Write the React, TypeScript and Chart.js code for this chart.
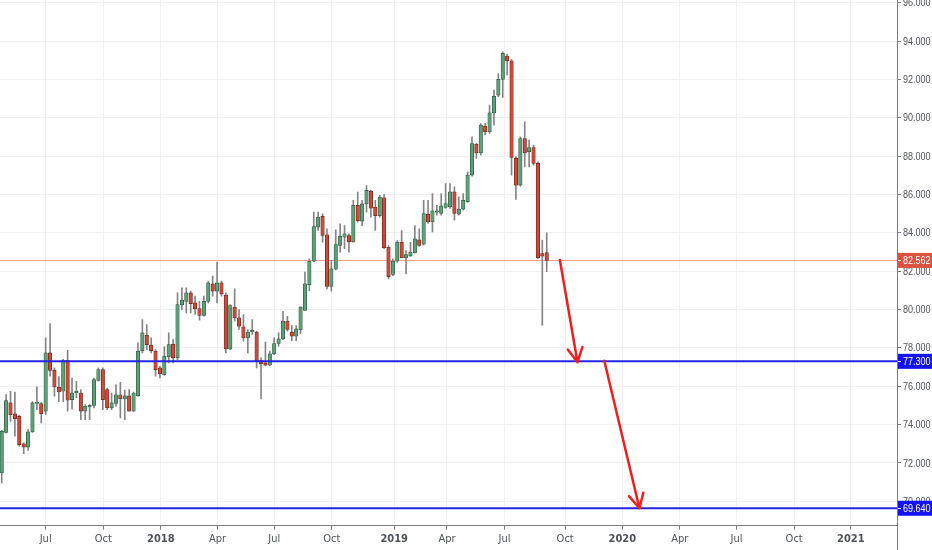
import { useEffect, useRef } from "react";
import { Chart, registerables } from "chart.js";

Chart.register(...registerables);

// weekly candles, index 0 = late April 2017
const opens = [
  71.48, 73.6, 75.13, 74.56, 74.43, 73.0, 72.83, 73.62, 75.1, 75.1,
  74.7, 77.74, 76.83, 75.96, 75.74, 77.34, 75.3, 75.67, 75.65, 74.7,
  74.92, 75.0, 76.3, 76.87, 75.83, 74.87, 75.1, 75.56, 75.34, 75.5,
  74.7, 75.5, 77.86, 78.66, 78.14, 77.83, 76.96, 76.6, 77.53, 78.2,
  77.48, 80.24, 80.43, 80.87, 80.35, 80.05, 79.69, 80.43, 81.34, 80.96,
  81.39, 80.75, 77.95, 80.12, 79.57, 79.1, 78.52, 78.85, 78.82, 77.34,
  77.22, 77.1, 77.69, 78.23, 78.47, 79.39, 78.82, 78.61, 78.94, 79.95,
  81.3, 82.52, 84.3, 84.87, 83.9, 81.2, 82.1, 83.34, 83.77, 83.86,
  83.53, 85.43, 84.61, 85.51, 86.17, 85.34, 84.9, 85.83, 83.25, 81.83,
  82.52, 83.51, 82.7, 82.8, 82.96, 83.63, 83.41, 84.97, 84.57, 85.08,
  85.01, 85.32, 85.36, 86.14, 84.97, 85.23, 85.62, 87.01, 88.63, 88.17,
  89.57, 89.27, 90.26, 91.18, 92.0, 93.22, 92.97, 87.88, 86.49, 88.92,
  88.23, 88.45, 87.62, 82.92, 82.97,
];
const highs = [
  73.7, 75.57, 75.74, 75.7, 74.5, 73.05, 73.74, 75.2, 75.97, 75.15,
  78.52, 79.27, 76.96, 76.5, 77.4, 77.88, 76.43, 76.26, 75.83, 75.04,
  75.04, 76.43, 76.96, 76.96, 75.9, 75.65, 76.08, 76.2, 75.8, 75.83,
  75.7, 78.26, 79.48, 79.22, 78.52, 77.91, 77.04, 78.05, 78.78, 78.43,
  80.87, 81.13, 81.13, 80.96, 80.7, 80.43, 80.7, 81.48, 81.74, 82.47,
  81.48, 80.87, 80.26, 81.08, 80.0, 79.74, 78.96, 79.48, 78.87, 77.48,
  78.3, 77.83, 78.52, 78.78, 79.91, 79.65, 79.17, 79.17, 80.16, 81.95,
  82.64, 85.08, 85.08, 84.99, 84.21, 82.56, 84.16, 84.47, 84.38, 83.95,
  85.69, 86.12, 85.69, 86.47, 86.21, 85.69, 85.95, 86.0, 83.34, 82.64,
  83.6, 84.12, 83.08, 83.51, 84.38, 84.21, 85.7, 85.7, 86.05, 85.44,
  86.05, 86.57, 86.57, 86.4, 85.88, 86.05, 87.18, 89.01, 88.66, 89.7,
  89.7, 90.66, 91.44, 92.31, 93.44, 93.32, 93.04, 87.97, 89.01, 89.79,
  88.83, 88.57, 87.7, 83.62, 84.0,
];
const lows = [
  70.96, 73.55, 74.17, 73.4, 72.87, 72.49, 72.66, 73.6, 74.78, 74.09,
  74.52, 76.52, 75.48, 75.2, 75.2, 74.7, 74.8, 75.4, 74.26, 74.26,
  74.26, 74.87, 76.26, 74.78, 74.78, 74.78, 74.96, 74.35, 74.26, 74.7,
  74.7, 75.48, 77.74, 77.91, 77.74, 76.52, 76.43, 76.57, 77.22, 77.22,
  77.39, 80.0, 79.83, 79.83, 79.74, 79.44, 79.65, 80.35, 80.7, 80.35,
  80.7, 77.74, 77.91, 79.39, 78.96, 78.35, 77.74, 78.7, 76.96, 75.34,
  77.08, 77.08, 77.65, 78.09, 78.43, 78.87, 78.38, 78.38, 78.73, 79.95,
  80.99, 82.5, 84.12, 83.51, 81.08, 80.96, 82.07, 82.99, 83.17, 82.99,
  83.51, 84.56, 84.38, 85.08, 84.82, 84.12, 84.82, 83.17, 81.6, 81.77,
  82.47, 82.7, 81.86, 82.77, 82.94, 83.29, 83.36, 84.49, 84.05, 84.92,
  84.92, 85.27, 85.27, 84.66, 84.92, 85.18, 85.58, 86.96, 87.88, 88.05,
  89.1, 89.18, 89.62, 91.1, 91.06, 92.23, 87.01, 85.74, 86.43, 87.44,
  87.44, 87.53, 82.66, 79.18, 81.97,
];
const closes = [
  73.65, 75.25, 74.52, 74.31, 72.96, 72.83, 73.62, 75.13, 75.15, 74.57,
  77.74, 76.83, 75.96, 75.7, 77.34, 75.27, 75.65, 75.7, 74.7, 74.96,
  75.0, 76.35, 76.87, 75.3, 74.87, 75.13, 75.56, 75.34, 75.5, 74.7,
  75.65, 77.83, 78.78, 78.17, 77.86, 76.87, 76.64, 77.57, 78.17, 77.48,
  80.26, 80.49, 80.87, 80.31, 80.03, 79.69, 80.43, 81.39, 80.96, 81.39,
  80.82, 77.95, 80.21, 79.57, 79.13, 78.52, 78.82, 78.87, 77.34, 77.17,
  77.1, 77.69, 78.23, 78.47, 79.39, 78.96, 78.61, 78.99, 80.12, 81.34,
  82.52, 84.33, 84.82, 83.86, 81.2, 82.12, 83.39, 83.83, 83.95, 83.53,
  85.43, 84.64, 85.51, 86.21, 85.29, 84.9, 85.86, 83.22, 81.72, 82.52,
  83.51, 82.7, 82.87, 82.99, 83.69, 83.34, 85.01, 84.57, 85.15, 85.1,
  85.41, 85.53, 86.14, 85.01, 85.23, 85.7, 87.01, 88.66, 88.17, 89.62,
  89.27, 90.26, 91.13, 92.0, 93.36, 92.96, 87.93, 86.49, 88.92, 88.17,
  88.45, 87.62, 82.71, 82.78, 82.562,
];

const xTickPos = [10, 23.1, 36.2, 49.1, 62, 75.1, 89.3, 101.3, 114.4, 128.2, 141.2, 154.3, 167.2, 180.3, 193.2];
const xTickLabels = ["Jul", "Oct", "2018", "Apr", "Jul", "Oct", "2019", "Apr", "Jul", "Oct", "2020", "Apr", "Jul", "Oct", "2021"];
const priceTicks = [70, 72, 74, 76, 78, 80, 82, 84, 86, 88, 90, 92, 94, 96];

const lastPrice = 82.562;
const supportLevels = [77.3, 69.64];
// projected moves, [week index, price]
const arrowStarts = [[127.0, 82.58], [137.1, 77.33]];
const arrowEnds = [[131.0, 77.25], [145.1, 69.64]];

const FONT = "'DejaVu Sans Condensed', 'Liberation Sans', sans-serif";
const LABEL_FONT = "11px 'Liberation Sans', sans-serif";
const GREEN = "#5d9f78";
const GREEN_EDGE = "#2c5a3e";
const RED = "#cc4a3b";
const RED_EDGE = "#6e2118";
const BLUE = "#2424e6";
const BLUE_BOX = "#1212f2";
const AXIS = "#7d7d7d";
const GRID = "#eef0f3";
const TEXT = "#4f535c";

// price labels are narrow in the original, so squeeze them a bit
const narrowText = (ctx: CanvasRenderingContext2D, text: string, x: number, y: number) => {
  ctx.save();
  ctx.translate(x, y);
  ctx.scale(0.82, 1);
  ctx.fillText(text, 0, 0);
  ctx.restore();
};

const levelsPlugin = {
  id: "levels",
  beforeDatasetsDraw(chart: any) {
    const { ctx, chartArea, scales } = chart;
    const y = Math.round(scales.y.getPixelForValue(lastPrice)) + 0.5;
    ctx.save();
    ctx.strokeStyle = "#f3a08e";
    ctx.lineWidth = 1;
    ctx.beginPath();
    ctx.moveTo(chartArea.left, y);
    ctx.lineTo(chartArea.right, y);
    ctx.stroke();
    ctx.restore();
  },
  afterDatasetsDraw(chart: any) {
    const { ctx, chartArea, scales } = chart;
    ctx.save();
    ctx.strokeStyle = BLUE;
    ctx.lineWidth = 2;
    supportLevels.forEach((lv) => {
      const y = scales.y.getPixelForValue(lv);
      ctx.beginPath();
      ctx.moveTo(chartArea.left, y);
      ctx.lineTo(chartArea.right, y);
      ctx.stroke();
    });

    ctx.strokeStyle = "#f21d1d";
    ctx.lineWidth = 2.5;
    ctx.lineCap = "round";
    ctx.lineJoin = "round";
    arrowStarts.forEach((s, k) => {
      const e = arrowEnds[k];
      const x1 = scales.x.getPixelForValue(s[0]);
      const y1 = scales.y.getPixelForValue(s[1]);
      const x2 = scales.x.getPixelForValue(e[0]);
      const y2 = scales.y.getPixelForValue(e[1]);
      const ang = Math.atan2(y1 - y2, x1 - x2);
      const len = 16;
      const spread = 0.48;
      ctx.beginPath();
      ctx.moveTo(x1, y1);
      ctx.lineTo(x2, y2);
      ctx.moveTo(x2 + len * Math.cos(ang - spread), y2 + len * Math.sin(ang - spread));
      ctx.lineTo(x2, y2);
      ctx.lineTo(x2 + len * Math.cos(ang + spread), y2 + len * Math.sin(ang + spread));
      ctx.stroke();
    });
    ctx.restore();
  },
  afterDraw(chart: any) {
    const { ctx, chartArea, scales, height, width } = chart;
    ctx.save();
    ctx.strokeStyle = AXIS;
    ctx.lineWidth = 1;
    ctx.beginPath();
    ctx.moveTo(Math.round(chartArea.right) + 0.5, chartArea.bottom);
    ctx.lineTo(Math.round(chartArea.right) + 0.5, height);
    ctx.stroke();

    ctx.font = LABEL_FONT;
    ctx.textBaseline = "middle";
    ctx.textAlign = "left";
    ctx.fillStyle = TEXT;
    priceTicks.forEach((v) => {
      narrowText(ctx, v.toFixed(3), chartArea.right + 6, scales.y.getPixelForValue(v) + 0.5);
    });

    const boxes: [number, string][] = [[lastPrice, "#dc5140"], ...supportLevels.map((v) => [v, BLUE_BOX] as [number, string])];
    boxes.forEach(([v, c]) => {
      const y = scales.y.getPixelForValue(v);
      ctx.fillStyle = c;
      ctx.fillRect(chartArea.right + 1, y - 7.5, width - chartArea.right - 1, 15);
      ctx.strokeStyle = "#ffffff";
      ctx.beginPath();
      ctx.moveTo(chartArea.right + 1, Math.round(y) + 0.5);
      ctx.lineTo(chartArea.right + 4, Math.round(y) + 0.5);
      ctx.stroke();
      ctx.fillStyle = "#ffffff";
      narrowText(ctx, v.toFixed(3), chartArea.right + 6, y + 0.5);
    });
    ctx.restore();
  },
};

export default function App() {
  const chartRef = useRef<HTMLCanvasElement>(null);

  useEffect(() => {
    let myChart: Chart | null = null;
    if (chartRef.current) {
      const bodyColor = (c: any) => (closes[c.dataIndex] >= opens[c.dataIndex] ? GREEN : RED);
      const edgeColor = (c: any) => (closes[c.dataIndex] >= opens[c.dataIndex] ? GREEN_EDGE : RED_EDGE);

      myChart = new Chart(chartRef.current, {
        type: "bar",
        data: {
          datasets: [
            {
              label: "body",
              data: opens.map((o, i) => ({ x: i, y: [o, closes[i]] })) as any,
              backgroundColor: bodyColor,
              borderColor: edgeColor,
              borderWidth: 0.7,
              borderSkipped: false,
              barThickness: 3.5,
              minBarLength: 1.2,
              grouped: false,
              order: 1,
            } as any,
            {
              label: "wick",
              data: lows.map((l, i) => ({ x: i, y: [l, highs[i]] })) as any,
              backgroundColor: "#858585",
              borderWidth: 0,
              barThickness: 1,
              grouped: false,
              order: 2,
            } as any,
          ],
        },
        options: {
          animation: false,
          responsive: true,
          maintainAspectRatio: false,
          layout: { padding: 0 },
          plugins: {
            legend: { display: false },
            tooltip: { enabled: false },
          },
          scales: {
            x: {
              type: "linear",
              min: -0.39,
              max: 203.7,
              offset: false,
              afterBuildTicks: (axis: any) => {
                axis.ticks = xTickPos.map((v) => ({ value: v }));
              },
              afterFit: (axis: any) => {
                axis.height = 24.3;
                axis.paddingLeft = 0;
                axis.paddingRight = 0;
              },
              grid: { color: GRID, tickColor: AXIS, tickLength: 4, offset: false },
              border: { color: AXIS },
              ticks: {
                autoSkip: false,
                maxRotation: 0,
                padding: 3,
                color: TEXT,
                font: (c: any) => ({
                  family: FONT,
                  size: 11,
                  weight: /^\d{4}$/.test(xTickLabels[c.index] || "") ? "bold" : "normal",
                }),
                callback: (_v: any, i: number) => xTickLabels[i],
              },
            },
            y: {
              type: "linear",
              position: "right",
              min: 68.73,
              max: 96.14,
              afterBuildTicks: (axis: any) => {
                axis.ticks = priceTicks.map((v) => ({ value: v }));
              },
              afterFit: (axis: any) => {
                axis.width = 35;
                axis.paddingTop = 0;
                axis.paddingBottom = 0;
              },
              grid: { color: GRID, tickColor: AXIS, tickLength: 4 },
              border: { color: AXIS },
              ticks: { display: false },
            },
          },
        },
        plugins: [levelsPlugin],
      } as any);
    }
    return () => {
      if (myChart) {
        myChart.destroy();
      }
    };
  }, []);

  return (
    <div style={{ position: "fixed", left: 0, top: 0, width: 932, height: 550, background: "#ffffff" }}>
      <canvas ref={chartRef}></canvas>
    </div>
  );
}
